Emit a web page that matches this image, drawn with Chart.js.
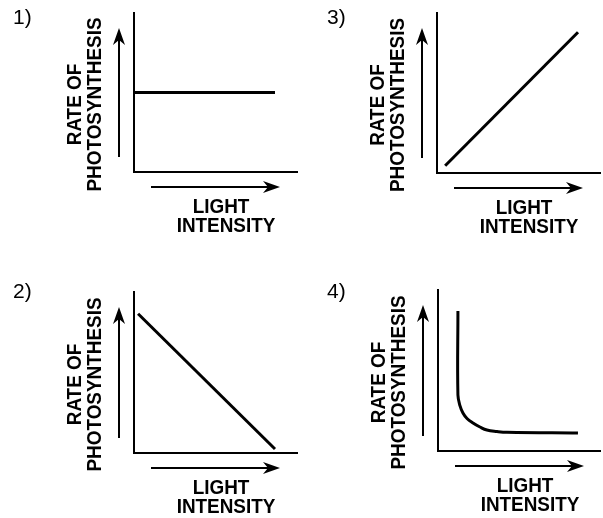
<!DOCTYPE html>
<html>
<head>
<meta charset="utf-8">
<script src="https://cdn.jsdelivr.net/npm/chart.js@4"></script>
<style>
  html, body { margin: 0; padding: 0; background: #fff; }
  #wrap { position: relative; width: 603px; height: 518px; overflow: hidden; }
  .panel { position: absolute; }
</style>
</head>
<body>
<div id="wrap"></div>
<script>
// chart data
const panelLabels = ['1)', '3)', '2)', '4)'];
const yTitle = ['RATE OF', 'PHOTOSYNTHESIS'];
const xTitle = ['LIGHT', 'INTENSITY'];

// 1) constant
const flatX = [0, 8.65];
const flatY = [5.0, 5.0];
// 3) rising
const riseX = [0.5, 8.65];
const riseY = [0.45, 8.8];
// 2) falling
const fallX = [0.25, 8.65];
const fallY = [8.65, 0.25];
// 4) drops then levels off
const curveX = [1.23, 1.23, 1.36, 1.54, 1.79, 2.16, 2.59, 3.02, 3.64, 4.26, 8.64];
const curveY = [8.7, 3.48, 2.8, 2.36, 2.02, 1.74, 1.49, 1.3, 1.21, 1.16, 1.12];

const FONT = '"Liberation Sans", Arial, Helvetica, sans-serif';

// panel layout (position on page, plot area padding, label spot)
const panels = [
  { x: flatX, y: flatY, tension: 0, left: 0, top: 0, w: 300, h: 259,
    pad: { left: 134, top: 13, right: 3, bottom: 87 }, num: { x: 13, y: 24 } },
  { x: riseX, y: riseY, tension: 0, left: 300, top: 0, w: 303, h: 259,
    pad: { left: 137, top: 13, right: 3, bottom: 86 }, num: { x: 27, y: 24 } },
  { x: fallX, y: fallY, tension: 0, left: 0, top: 259, w: 300, h: 259,
    pad: { left: 134, top: 33, right: 3, bottom: 65 }, num: { x: 13, y: 39 } },
  { x: curveX, y: curveY, tension: 0.4, left: 300, top: 259, w: 303, h: 259,
    pad: { left: 138, top: 31, right: 3, bottom: 67 }, num: { x: 27, y: 39 } }
];

function drawArrow(ctx, x1, y1, x2, y2) {
  const ang = Math.atan2(y2 - y1, x2 - x1);
  const len = 17, half = 6, notch = 5;
  ctx.lineWidth = 2;
  ctx.beginPath();
  ctx.moveTo(x1, y1);
  ctx.lineTo(x2 - Math.cos(ang) * (len - notch), y2 - Math.sin(ang) * (len - notch));
  ctx.stroke();
  ctx.save();
  ctx.translate(x2, y2);
  ctx.rotate(ang);
  ctx.beginPath();
  ctx.moveTo(0, 0);
  ctx.lineTo(-len, -half);
  ctx.lineTo(-len + notch, 0);
  ctx.lineTo(-len, half);
  ctx.closePath();
  ctx.fill();
  ctx.restore();
}

// narrow text: the scan uses a condensed grotesque
function narrowText(ctx, text, x, y) {
  ctx.save();
  ctx.translate(x, y);
  ctx.scale(0.9, 1);
  ctx.fillText(text, 0, 0);
  ctx.restore();
}

// arrows, axis captions and panel number
const decor = {
  id: 'decor',
  afterDraw(chart, args, opts) {
    const { ctx, chartArea: a } = chart;
    ctx.save();
    ctx.fillStyle = '#000';
    ctx.strokeStyle = '#000';

    drawArrow(ctx, a.left - 15, a.bottom - 15, a.left - 15, a.top + 15);
    drawArrow(ctx, a.left + 17, a.bottom + 15, a.left + 146, a.bottom + 15);

    ctx.font = 'bold 21px ' + FONT;
    ctx.textAlign = 'center';
    ctx.textBaseline = 'middle';
    ctx.save();
    ctx.translate(a.left - 49, (a.top + a.bottom) / 2 + 12);
    ctx.rotate(-Math.PI / 2);
    yTitle.forEach((t, i) => narrowText(ctx, t, 0, (i - 0.5) * 20));
    ctx.restore();

    ctx.textBaseline = 'alphabetic';
    narrowText(ctx, xTitle[0], a.left + 87, a.bottom + 41);
    narrowText(ctx, xTitle[1], a.left + 92, a.bottom + 60);

    ctx.font = '21px ' + FONT;
    ctx.textAlign = 'left';
    ctx.fillText(opts.label, opts.pos.x, opts.pos.y);
    ctx.restore();
  }
};

const wrap = document.getElementById('wrap');

panels.forEach((p, i) => {
  const div = document.createElement('div');
  div.className = 'panel';
  div.style.left = p.left + 'px';
  div.style.top = p.top + 'px';
  const canvas = document.createElement('canvas');
  canvas.width = p.w;
  canvas.height = p.h;
  div.appendChild(canvas);
  wrap.appendChild(div);

  new Chart(canvas.getContext('2d'), {
    type: 'line',
    data: {
      datasets: [{
        data: p.x.map((v, k) => ({ x: v, y: p.y[k] })),
        borderColor: '#000',
        borderWidth: 3,
        pointRadius: 0,
        tension: p.tension,
        clip: false,
        fill: false
      }]
    },
    options: {
      responsive: false,
      animation: false,
      layout: { padding: p.pad },
      plugins: {
        legend: { display: false },
        tooltip: { enabled: false },
        decor: { label: panelLabels[i], pos: p.num }
      },
      scales: {
        x: {
          type: 'linear', min: 0, max: 10,
          ticks: { display: false },
          grid: { display: false },
          border: { display: true, color: '#000', width: 2 },
          afterFit: s => { s.height = 0; }
        },
        y: {
          type: 'linear', min: 0, max: 10,
          ticks: { display: false },
          grid: { display: false },
          border: { display: true, color: '#000', width: 2 },
          afterFit: s => { s.width = 0; }
        }
      }
    },
    plugins: [decor]
  });
});
</script>
</body>
</html>
